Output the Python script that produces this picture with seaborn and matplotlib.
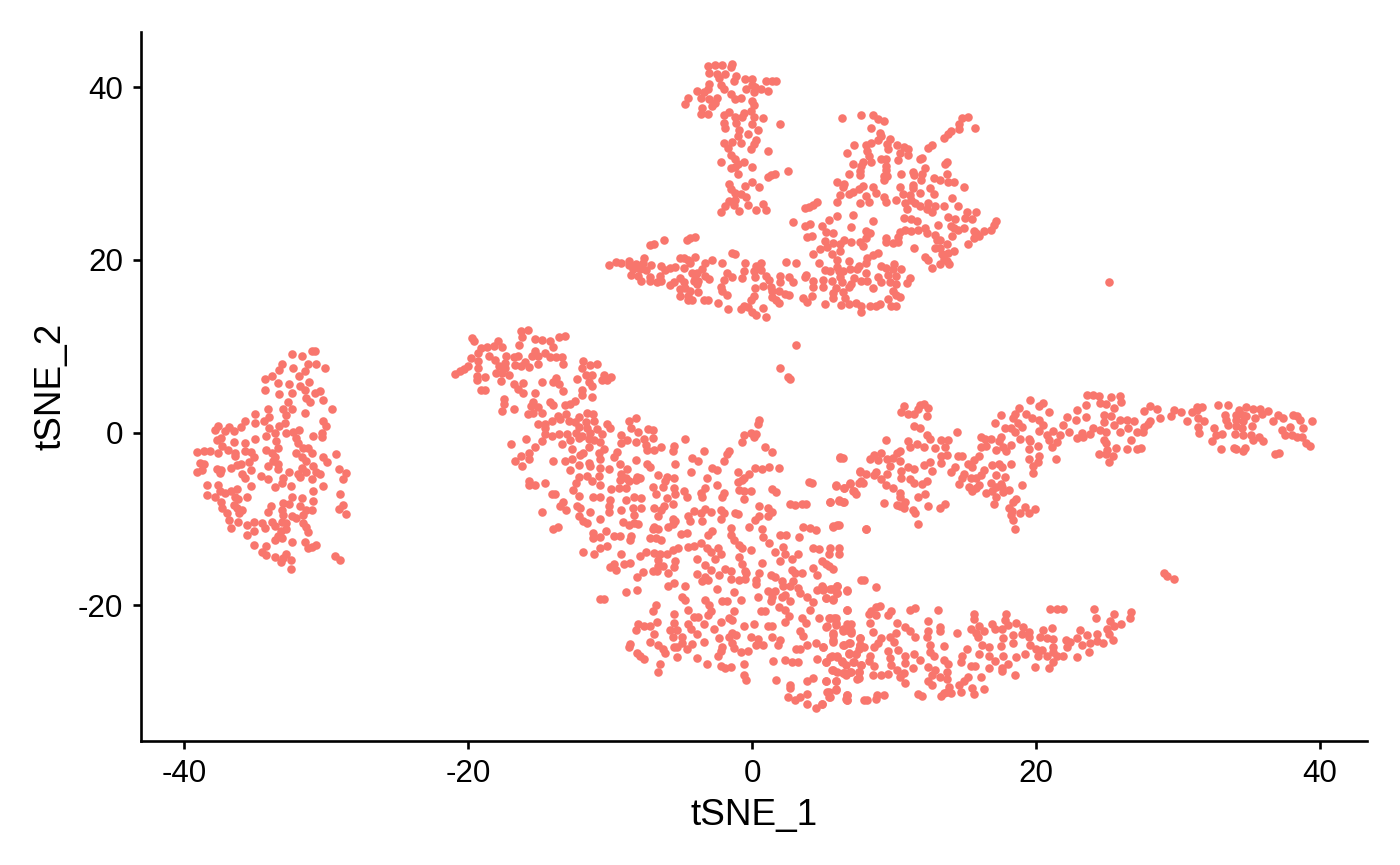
import pandas as pd
import matplotlib
matplotlib.use("Agg")
import matplotlib.pyplot as plt
import seaborn as sns

#Cell coordinates, one list per blob
left_blob = [(-31.0,9.5),(-30.8,9.5),(-32.4,9.1),(-31.7,8.9),(-33.1,7.9),(-33.3,7.3),(-32.3,7.5),(-31.3,8.0),(-30.7,7.9),(-30.1,7.5),(-31.5,7.1),(-31.9,6.6),(-34.3,6.2),(-33.8,6.6),(-33.4,5.8),(-31.2,5.9),(-32.6,5.6),(-31.8,5.4),(-34.3,4.9),(-33.3,4.5),(-32.4,4.6),(-31.5,5.0),(-30.8,4.6),(-30.4,4.8),(-31.4,4.0),(-30.2,3.8),(-31.1,3.5),(-32.7,3.5),(-32.4,2.8),(-29.6,2.7),(-31.5,2.3),(-34.1,2.7),(-33.0,2.8),(-35.0,2.2),(-34.0,1.8),(-32.8,2.1),(-35.7,1.3),(-35.0,1.1),(-34.4,1.3),(-32.9,1.1),(-30.2,1.3),(-30,0.8),(-37.6,0.8),(-36.8,0.7),(-36,0.7),(-37.8,0.3),(-37.1,0.2),(-36.5,0.2),(-34,0.6),(-33.3,0.8),(-33.6,0),(-32.8,0),(-32.3,0.1),(-31.9,0.3),(-30.3,0),(-30.9,-0.4),(-30.3,-0.5),(-37.4,-0.6),(-37.7,-0.9),(-34.2,-0.4),(-35,-0.7),(-32.1,-0.6),(-33.5,-1),(-36.5,-1.1),(-35.7,-1.2),(-37.3,-1.5),(-32,-1.2),(-39.1,-2.2),(-38.6,-2.1),(-38.2,-2.1),(-37.6,-2.3),(-36.9,-2),(-36.4,-2.3),(-35.7,-2.1),(-35.3,-2.2),(-34.2,-2),(-33.4,-1.8),(-33.8,-2.3),(-31.6,-1.8),(-31.3,-1.8),(-32.1,-2.3),(-31,-2.4),(-29.3,-2.5),(-36.4,-2.7),(-35.1,-2.8),(-33.6,-2.8),(-31.7,-2.8),(-30.2,-2.8),(-38.9,-3.5),(-38.6,-3.6),(-35.4,-3.4),(-33.7,-3.3),(-31.4,-3.3),(-29.9,-3.4),(-36.3,-3.7),(-36,-3.6),(-34.1,-3.9),(-33.4,-3.6),(-37.7,-4.2),(-37.4,-4.3),(-36.7,-4.1),(-39.1,-4.5),(-38.7,-4.3),(-33.4,-4.2),(-31.7,-4.1),(-30.9,-3.9),(-29.1,-4.2),(-35.3,-4.3),(-37.5,-4.7),(-35.9,-4.8),(-32.6,-4.6),(-32,-4.8),(-31.4,-4.5),(-30.7,-4.5),(-28.6,-4.7),(-34.6,-5),(-35.7,-5.2),(-34.1,-5.4),(-33,-5.2),(-31.8,-5.1),(-30.4,-4.8),(-31,-5.4),(-28.8,-5.4),(-33.1,-5.8),(-38.4,-6.1),(-37.6,-6.1),(-35.3,-6.2),(-33.6,-6.3),(-32.5,-6.2),(-30.2,-6.2),(-37.5,-6.7),(-37.1,-7),(-36.3,-6.5),(-36.7,-6.8),(-30.9,-6.8),(-38.4,-7.2),(-37.8,-7.4),(-36.4,-7.4),(-36.2,-7.7),(-35.6,-7.5),(-32.4,-7.4),(-31.7,-7.6),(-29,-7.1),(-37.4,-8.0),(-36.5,-8.4),(-30.9,-7.9),(-32.6,-8.3),(-33,-8.1),(-33.9,-8.5),(-31.8,-8.5),(-28.8,-8.4),(-29.1,-8.8),(-37.3,-8.7),(-36.3,-8.7),(-35.9,-9),(-33.1,-8.9),(-31,-8.9),(-31.4,-9),(-28.6,-9.4),(-37,-9.3),(-36.1,-9.3),(-34.1,-9.2),(-33,-9.5),(-31.6,-9.5),(-32.4,-9.6),(-32.1,-9.9),(-36.8,-10.1),(-36.2,-10.3),(-35.1,-10.3),(-34.5,-10.4),(-33.8,-10.3),(-33.1,-10.3),(-32.8,-10.4),(-31.6,-10.4),(-35.6,-10.7),(-34.3,-11),(-33.6,-10.8),(-32.8,-11.1),(-36.7,-11),(-31.4,-10.9),(-35.1,-11.4),(-33.2,-11.4),(-31.3,-11.5),(-35.6,-11.9),(-33.4,-12),(-33.1,-12.2),(-32.4,-12.6),(-33.6,-12.4),(-35.1,-13),(-34.2,-13.1),(-31.5,-12.6),(-30.7,-13),(-31.3,-13.3),(-31,-13.2),(-34.5,-13.8),(-34.2,-14.2),(-33.6,-14.4),(-32.8,-14.1),(-33,-14.5),(-32.5,-14.7),(-33.2,-15),(-32.5,-15.8),(-29.4,-14.3),(-29,-14.7)]

top_column = [(-3.1,42.5),(-2.6,42.6),(-2.1,42.6),(-1.4,42.7),(-1.5,42.3),(-3,41.6),(-2.5,41.5),(-1.9,41.5),(-2.3,41.1),(-1.1,41.3),(-1.3,40.7),(-0.5,41),(0,40.9),(1,40.7),(1.4,40.7),(1.7,40.7),(-3,40.4),(-2.2,40.3),(0,40.3),(0.2,40),(0.6,39.8),(-3.1,39.8),(-2,39.8),(-0.4,39.8),(1.1,39.6),(0.1,39.5),(-3.9,39.6),(-3.4,39.4),(-1.5,39.2),(-4.5,38.8),(-3.6,38.7),(-3,38.6),(-2.5,38.7),(-1.2,38.6),(-0.8,38.8),(0,38.4),(-4.7,38.1),(-2.8,37.8),(-2.6,38.2),(0.1,37.9),(-3.5,37.6),(-0.1,37.3),(-3.6,36.9),(-3.1,36.9),(-2,36.8),(-1.6,37.1),(-0.6,37),(-1.2,36.5),(-0.7,36.5),(0.1,36.5),(0.8,36.4),(2,35.8),(-2,35.9),(-1.1,35.9),(0,35.7),(-1.9,35.3),(0.4,35.1),(-0.9,35),(-0.3,34.6),(-1,34.3),(0.3,33.9),(-2,33.6),(-1.4,33.7),(-0.8,33.5),(0.1,33.4),(-1.7,33),(-0.1,32.9),(1.1,32.6),(-1.5,32.2),(-1.2,31.7),(-0.6,31.3),(-2.2,31.3),(-1,31.1),(0,30.8),(-1.5,30.7),(-1.2,30.8),(2.5,30.3),(-1,29.9),(1.6,29.9),(1.3,29.8),(1.1,29.6),(-1.6,28.8),(-0.5,28.6),(0,29),(0.5,28.5),(-1.5,28.2),(-1.2,27.7),(-0.8,27.6),(-0.4,27.3),(-1.6,26.8),(-1.2,27),(-1.3,26.4),(-1.9,26.2),(-0.3,26.4),(0.8,26.5),(-2.2,25.6),(-0.9,25.7),(0.3,25.8),(1,25.8)]

upper_right = [(6.3,36.4),(7.7,36.8),(8.5,36.8),(8.9,36.3),(9.3,36.1),(8.4,35.3),(9,34.7),(9.1,34.4),(8.9,33.9),(9.7,34),(14.8,36.4),(15.2,36.6),(15.7,35.3),(14.6,35.7),(14.6,35.2),(14,34.9),(13.8,34.6),(13.5,34.1),(7.2,33.3),(8,33.3),(8.4,33.5),(9.5,33.4),(9.6,32.8),(10.2,33.3),(10.7,33.1),(11,32.8),(12.4,33),(12.7,33.3),(6.7,32.4),(8.1,32.6),(8.2,32.0),(10.4,32.4),(11,32.2),(11.8,31.7),(12,31.8),(9.1,31.7),(9.4,31.7),(10.3,31.6),(13.7,31.3),(13.6,31.1),(7.8,31.3),(8.4,31.3),(7.1,31.1),(7.7,30.9),(9.4,30.9),(12.2,30.7),(9.4,30.4),(7.6,30.3),(6.8,30),(7.6,29.8),(10.5,29.9),(11.3,30.2),(12,30),(11.4,29.8),(13.7,29.9),(9.3,29.7),(9.5,29.7),(9.3,29.3),(12.8,29.5),(13.2,29.3),(11.9,29.3),(13.8,29),(14.2,29),(6,29),(6.5,28.8),(6.4,28.4),(7.8,28.6),(7.5,28.2),(8.5,28.5),(10.4,28.4),(11.3,28.7),(11.3,28.3),(12.5,28.3),(14.9,28.5),(7.1,27.9),(6.8,27.6),(8.7,27.7),(11.8,27.8),(12.8,27.6),(6.2,27.5),(8,27.4),(9.3,27.3),(10.6,27.6),(11.1,27.5),(14.1,27.2),(10.1,26.9),(11.2,26.9),(7.6,26.6),(8.2,26.7),(6,26.7),(9.4,26.7),(10.8,26.6),(11.5,26.6),(12.4,26.6),(4.6,26.7),(4.3,26.4),(4,26.1),(3.7,26),(13.5,26.3),(14.5,26.2),(11.8,26.2),(12.9,26.2),(10.9,25.9),(12.3,25.9),(12.7,25.5),(15.1,25.6),(15.8,25.5),(6,25.1),(7.1,25.2),(13.8,25),(15,24.9),(10.7,24.9),(11.2,24.7),(11.6,24.5),(14.3,24.7),(15.5,24.8),(17.2,24.5),(17,24.1),(5.4,24.6),(2.9,24.4),(8.5,24.5),(4.1,24.2),(3.7,23.9),(4.9,23.9),(7,23.8),(13.1,24),(14,23.9),(14.9,23.7),(12.2,23.7),(11.7,23.5),(11.2,23.4),(10.8,23.5),(14.2,23.7),(14.5,23.5),(8,23.4),(16.8,23.5),(16.3,23.4),(15.6,23.4),(5.2,23.2),(5.7,23.1),(8.3,23.1),(10.4,23.2),(12.3,23.1),(15.8,23.1),(3.9,22.7),(4.2,22.8),(12.9,22.9),(14.1,22.8),(10.3,22.7),(16,22.8),(15.6,22.5),(8,22.6),(9.4,22.6),(13,22.3),(13.2,22.3),(5.1,22.2),(6.5,22.3),(6.2,21.9),(7,22.1),(7.6,22.1),(9.4,22.1),(9.9,22),(10.3,22.1),(5.7,22),(15.2,21.9),(13.7,21.8),(5.3,21.5),(4.8,21.3),(7.8,21.6),(11.4,21.4),(12.9,21.4),(13.2,21.4),(6.2,21),(14.2,21),(13.8,20.8),(4.3,20.7),(5.6,20.7),(8.9,20.8),(8.5,20.6),(13.4,20.7),(12.2,20.3),(12.4,20),(13.5,20.1),(6,20),(8.1,20.2),(8,19.7),(13.7,19.9),(6.8,19.9),(4.7,19.6),(7.5,19.3),(7.4,19.0),(13.2,19.5),(13.9,19.5),(9.1,19.3),(9.4,19.1),(10,19.5),(12.7,19.1),(10.5,19),(9.9,18.9),(6,19.2),(5.1,18.8),(5.5,18.7),(6.1,18.7),(6.4,18.7),(6.9,18.9),(8,18.5),(8.9,18),(9.6,18.3),(10.1,18.1),(11.1,17.9),(6.2,18),(7.2,17.9),(7.7,17.6),(8.1,17.6),(4.3,17.6),(5,17.7),(5.6,17.6),(6.3,17.4),(6.95,17.2),(9.1,17.4),(9.7,17.4),(10.1,17.2),(10.9,17.3),(4.3,16.9),(5,16.9),(5.9,16.8),(6.8,16.9),(8.5,16.7),(5.7,16.2),(6.4,16.3),(9.9,16.4),(10.1,15.9),(5.7,15.6),(6.55,15.6),(9.6,15.5),(10.4,15.7),(6.25,14.8),(6.8,14.9),(5.1,14.9),(7.3,15),(7.7,14.7),(7.7,14),(8.3,14.7),(8.7,14.7),(9,14.9),(9.8,14.7),(10.1,14.7),(3.6,15.6),(4.2,15.8),(3.9,15.1)]

upper_wing = [(-10.1,19.4),(-9.6,19.8),(-9.2,19.6),(-8.7,19.9),(-8.7,19.4),(-8.2,19.5),(-7.6,20.2),(-7.7,19.6),(-7.1,19.4),(-8.4,18.9),(-7.9,18.9),(-7.5,18.8),(-8.5,18.3),(-8,18.1),(-7.8,17.6),(-7.2,18),(-7.2,17.6),(-6.7,17.4),(-6.5,18.1),(-6.4,17.6),(-6.4,19.3),(-6.1,18.8),(-5.8,19.1),(-5.4,19.2),(-5.1,20.2),(-4.8,20.2),(-4.5,20),(-4,20.4),(-4.4,19.7),(-4.8,19.1),(-3.3,19.7),(-2.8,20),(-3.5,18.9),(-2.1,19.6),(-4.2,18.5),(-3.9,18.5),(-4,17.8),(-5.1,17.9),(-5.5,17.4),(-5.8,17.1),(-4.8,17.4),(-4.1,17.6),(-3.8,17.6),(-3.3,18.1),(-3,17.8),(-3.9,17.2),(-5.1,16.6),(-4.7,16.7),(-4.4,16.4),(-3.8,16.3),(-5.1,15.8),(-4.5,15.8),(-4.2,15.4),(-4.5,15.4),(-3.4,15.4),(-3.1,15.4),(-7.2,21.7),(-6.9,21.9),(-6.2,22.3),(-4.6,22.3),(-4.4,22.6),(-4,22.7),(-1.4,20.8),(-1.2,20.7),(-0.5,19.7),(0.6,19.7),(0.3,19.3),(2.4,19.8),(3.1,19.7),(-1.8,18.5),(-1.4,18),(-0.6,18.7),(-0.7,17.9),(0.1,18.7),(0.6,18.8),(0.2,18),(1,18.1),(1.2,17.7),(-2,17.7),(-2.2,16.9),(0.8,17),(1.3,16.9),(2,18.2),(2,17.4),(2.6,18),(2.9,17.4),(3.8,18.3),(3.7,18),(0.2,16.7),(-2.1,16.4),(-1.8,15.9),(1.4,16.4),(1.9,16.4),(2.3,16.1),(2.6,16),(1.4,15.7),(0.1,15.8),(-0.1,15.4),(1.7,15.4),(-2.4,15),(1.9,15),(-1.7,14.3),(-0.6,14.7),(-0.8,14.3),(-0.3,14.5),(0.8,14.4),(0,14),(0.3,13.6),(1,13.4)]

strays = [(25.1,17.4),(3.1,10.2),(2,7.5),(2.5,6.5),(2.7,6.2),(29,-16.3),(29.2,-16.6),(29.7,-16.9)]

main_body = [(-19.7,11),(-19.6,10.6),(-19.1,9.8),(-18.7,9.9),(-18.2,10),(-17.9,10.6),(-17.6,9.9),(-16.3,11.8),(-15.8,11.9),(-16.2,11.1),(-16.4,10.2),(-15.3,10.8),(-14.8,10.7),(-14.2,10.6),(-14,9.9),(-13.6,11.1),(-13.2,11.2),(-19.3,9.2),(-18.5,8.9),(-18.1,8.4),(-19.8,8.6),(-17.3,8.9),(-16.8,8.8),(-16.5,8.9),(-15.3,9.5),(-15.5,8.9),(-15.1,8.9),(-14.6,9.2),(-14.2,8.8),(-13.8,8.8),(-13.4,8.8),(-19.3,8.3),(-19.3,7.5),(-20,7.7),(-20.3,7.4),(-20.6,7.1),(-20.9,6.8),(-17.8,7.7),(-17.4,8.1),(-17.4,7.5),(-16.7,7.8),(-16.3,7.7),(-16,8.2),(-15.7,7.6),(-15.1,7.9),(-13.3,7.9),(-11.9,8.3),(-11.4,7.8),(-10.9,7.9),(-12,7.5),(-18,6.9),(-17.6,6.9),(-17.1,6.7),(-17.7,6),(-19.4,6.6),(-19.4,6.1),(-18.8,6.5),(-14.8,5.9),(-16.1,5.7),(-16.8,5.6),(-13.8,6.3),(-14,5.9),(-13.6,5.6),(-12.3,6.2),(-11.7,6.7),(-11.3,6.7),(-11.5,5.9),(-10.4,6.7),(-9.9,6.4),(-10.6,6.1),(-10.2,6.1),(-11.3,5.4),(-19.1,4.9),(-18.8,4.9),(-16.5,5.1),(-16.1,4.6),(-13.3,4.8),(-12,5),(-15.3,4.6),(-12,4.4),(-11.3,4.1),(-17.5,3.9),(-17.5,3.3),(-17.6,2.5),(-16.8,2.8),(-15.4,3.6),(-15.6,3.1),(-15.1,3),(-14.2,3.6),(-14,3.2),(-13.2,3.2),(-12.5,3.7),(-12.8,3.3),(-15.8,2.2),(-15.4,2.3),(-14.8,2.3),(-13.1,2.2),(-11.6,2.3),(-11.2,2.2),(-13.7,1.9),(-12.2,1.8),(-13.5,1.6),(-14.1,1.3),(-12.9,1.4),(-12.5,1.2),(-11.7,1.2),(-11.1,1.3),(-15.1,1),(-14.6,1),(-10.2,1),(-8.7,1.4),(-8.2,1.7),(-14.6,0.5),(-12.2,0.7),(-11.6,0.5),(-10,0.6),(-8.5,0.5),(-7.3,0.4),(-7,0.3),(-10.9,0.4),(-8,0.1),(-14.6,-0.2),(-13.6,-0.2),(-13,-0.1),(-12.4,0),(-12,-0.4),(-11.4,0),(-10.6,-0.2),(-9.2,-0.3),(-14.1,-0.4),(-15.9,-0.7),(-14.8,-1),(-12.8,-0.9),(-12.2,-0.6),(-11.5,-0.7),(-11.1,-0.8),(-10.7,-1.1),(-13.4,-1.3),(-17,-1.3),(-9.2,-1.2),(-8.8,-0.9),(-8.2,-1.1),(-7.6,-0.7),(-7,-0.6),(-4.7,-0.7),(-5.5,-1.5),(-5.6,-2.1),(-7.5,-1.4),(-7.4,-2),(-6.9,-2),(-6.4,-1.7),(-11.5,-1.6),(-15.3,-1.7),(-12.7,-1.9),(-10.4,-1.9),(-3.4,-2.1),(-1.6,-2.1),(-1.8,-2.5),(0.9,-1.7),(1.4,-2.2),(0.5,1.5),(0.4,1),(-0.1,0),(0.3,-0.1),(-0.6,-0.3),(0.1,-0.5),(-0.7,-1.1),(-15.7,-2.4),(-16.3,-2.7),(-12.1,-2.6),(-11.9,-2.4),(-10.8,-2.4),(-9.5,-2.2),(-9.7,-2.8),(-10.7,-3),(-4.2,-2.9),(-3.8,-3.3),(-2,-3.3),(6.2,-2.8),(-16.7,-3.3),(-15.7,-3.1),(-16.2,-3.8),(-14,-3.3),(-13.2,-3.3),(-12.7,-3.1),(-12.2,-3.7),(-11.5,-3.5),(-8.2,-3.2),(-7.4,-3.6),(-5.4,-3.6),(-9.3,-3.6),(-12.8,-4.3),(-11.4,-3.9),(-10.7,-4.1),(-10.1,-4.2),(-7.2,-4),(-2.8,-4.1),(-2.5,-4.3),(0.2,-4.1),(0.7,-4.2),(1.2,-4),(1.9,-4.1),(-1,-4.6),(-8.8,-4.2),(-9.2,-4.8),(-4.3,-4.5),(-0.2,-4.8),(-12.2,-5.1),(-6.6,-4.9),(-11.6,-5),(-10.8,-5),(-8.9,-5.3),(-8.1,-5.1),(-6,-5.1),(-15.7,-5.6),(-3.2,-5.2),(-0.6,-5.3),(4,-5.7),(4.2,-5.8),(7.6,-4.5),(-5.5,-5.3),(-14.6,-5.8),(-15.7,-6),(-15.3,-6.1),(-12.4,-5.8),(-11.3,-5.6),(-10.7,-6.1),(-9.3,-5.5),(-8.7,-5.6),(-8.2,-5.5),(-7.9,-5.3),(-6.1,-5.6),(-2.5,-6),(-1,-5.7),(-0.7,-5.5),(5.9,-6.1),(6.9,-5.8),(7.7,-5.6),(6.5,-6.4),(-12.6,-6.6),(-9.9,-6.5),(-9.4,-6.4),(-8.9,-6.4),(-7,-6.3),(-6.3,-6.3),(-5.5,-6.4),(-3.3,-6.4),(-0.9,-6.6),(-0.1,-6.8),(-0.6,-6.7),(1.4,-6.5),(1.7,-6.9),(7.2,-6.8),(-12.2,-7.3),(-6.8,-7.1),(-5.4,-7.1),(-4.8,-6.8),(-3.6,-7),(-2,-7),(-14.1,-7.1),(-13.9,-7.1),(-11.2,-7.5),(-10.7,-7.4),(-4.6,-7.5),(-3.5,-7.5),(-2.1,-7.5),(-6,-7.6),(-8.3,-7.4),(-7.8,-7.6),(-0.6,-7.7),(-10,-7.8),(-8.9,-7.8),(5.5,-8),(6.1,-7.8),(6.5,-8),(-13.3,-8),(-5.6,-8.3),(-13.5,-8.5),(2.7,-8.3),(3,-8.4),(3.5,-8.3),(3.8,-8.2),(0.5,-8.5),(-12.3,-8.5),(-10.1,-8.5),(-6.9,-8.7),(-6.2,-8.5),(-13.1,-9),(-12.1,-8.7),(-9.2,-8.9),(-8.4,-8.7),(-7.8,-8.7),(-3.3,-8.8),(-6.4,-9),(-2.2,-8.9),(1.1,-8.7),(-14.8,-9.2),(-11.4,-9.2),(-10.1,-9.2),(-4.1,-9.1),(-2.9,-9.2),(-2,-9.3),(-1.2,-9.3),(-1,-9.4),(1.4,-9.2),(-4.5,-9.6),(-3.6,-9.3),(-6.6,-9.6),(-8.3,-9.5),(0.5,-9.7),(1.1,-9.6),(-12.2,-9.7),(-10.7,-10),(-4.4,-10.2),(-3.5,-10.2),(-2.2,-10),(0.2,-10.1),(-5.6,-10),(-5.4,-10.2),(-11.9,-10.2),(-11.6,-10.4),(-9.1,-10.3),(-8.3,-10.5),(-8,-10.6),(-8.7,-10.7),(-5.6,-10.6),(6,-10.7),(5.7,-10.9),(-0.2,-10.9),(3.6,-10.9),(4.1,-11),(4.5,-11.3),(8,-11.1),(-13.7,-10.9),(-14,-11.2),(-5.9,-10.9),(-6.9,-10.9),(0.7,-11.1),(-1.5,-11),(-7,-11.2),(-6.6,-11.1),(-10.3,-11.4),(-11.2,-11.6),(-2.8,-11.4),(-1.5,-11.8),(-5,-11.7),(-4.6,-11.6),(-3.1,-11.8),(-10.7,-12.1),(-11.2,-12.2),(-9.7,-12),(-9.3,-12),(-8.5,-12),(2,-11.9),(2.4,-11.9),(0.8,-12.1),(-7.2,-12.2),(-6.8,-12.2),(-6.4,-12.4),(-8.6,-12.4),(3.3,-12.1),(-1.3,-12.4),(-10.2,-13.1),(-10.7,-13.4),(-0.9,-13),(1.2,-12.8),(2.2,-13.2),(4.3,-13.3),(4.7,-13.5),(5.5,-13.3),(6.1,-13.3),(-3.6,-12.8),(-4.5,-13.2),(-4.1,-13.1),(-3.2,-13.3),(-5.2,-13.4),(-5.6,-13.6),(-6,-14),(-2.4,-13.4),(-0.7,-13.4),(-11.9,-13.8),(-11.1,-14.1),(-9.2,-14),(-7.5,-13.8),(-6.9,-13.9),(-6.5,-14),(-2.9,-13.8),(-2.2,-14.1),(-0.1,-13.6),(1.6,-13.8),(2.3,-14),(3.2,-14.1),(5.4,-14),(6.1,-14.1),(-7.9,-14.3),(-0.9,-14.4),(2.8,-14.6),(2,-14.8),(-3.9,-14.6),(-2.6,-14.6),(4.9,-14.8),(-6.6,-14.7),(-5.4,-14.9),(-0.7,-15.2),(0.7,-15.1),(5.2,-15.2),(5.4,-15.4),(-9,-15.2),(-8.6,-15.1),(-10,-15.5),(-9.7,-15.2),(-9.6,-15.9),(-6.6,-15.4),(-6.3,-15.4),(-5.5,-15.6),(-3.3,-15.3),(5.7,-15.8),(2.8,-15.9),(-1.9,-15.8),(4.3,-15.7),(-2.9,-15.9),(-0.5,-16),(-1.5,-16),(-7.7,-16.1),(-7,-16),(-6.7,-16),(-5.9,-16.3),(3.05,-16.3),(3.5,-16.3),(0.5,-16.2),(-3.9,-16.4),(-0.4,-16.3),(-2.3,-16.5),(-8.1,-16.7),(-3.3,-16.7),(1.3,-16.5),(1.6,-16.7),(4.6,-16.5),(-1.5,-16.9),(-0.9,-17),(-0.5,-16.9),(0.3,-17),(2.1,-17.2),(7.7,-17),(-3.5,-17.2),(-3.1,-17),(2.9,-17.2),(2.7,-17.7),(-5.5,-17.4),(-5.9,-17.8),(-4.7,-17.7),(0.3,-17.5),(2.2,-17.7),(3.2,-18),(4.9,-17.7),(6,-17.7),(-8.9,-18.4),(-8.1,-18.2),(-2.5,-18.1),(-1.3,-18.5),(1.1,-18.3),(1.6,-18.3),(4.6,-18.2),(5,-18.2),(5.6,-18.1),(6.7,-18.3),(3.4,-18.6),(2.3,-18.8),(2.1,-19),(6,-18.6),(-10.7,-19.2),(-10.4,-19.2),(-4.9,-19),(-4.7,-19.4),(0.4,-19),(1.4,-19),(1.3,-19.5),(3.9,-19),(5.2,-19.1),(5.7,-19.4),(2.7,-19.5),(-3.3,-19.4),(-3,-19.9),(-0.8,-19.4),(-2.1,-19.5),(-1.8,-19.5),(4.3,-19.6),(-6.8,-19.9),(1.9,-20.2),(4.1,-20.5),(-7,-20.6),(-4.5,-20.5),(-2.9,-20.6),(-1.3,-20.6),(0.6,-20.6),(0.9,-20.6),(2.3,-20.5),(6.7,-20.5),(-5.5,-21),(-4.1,-21.3),(-3.8,-21.3),(-3.1,-21.1),(2.6,-21.2),(-1.6,-21.4),(4.7,-21.5),(5.4,-21.5),(5.8,-21.5),(3.5,-21.5),(-2.2,-21.9),(-1.4,-21.7),(-6.7,-21.9),(-8,-22.1),(-5.5,-22),(-3.4,-22.1),(2.3,-21.9),(3.8,-22),(5.9,-22),(-7.6,-22.4),(-7.2,-22.4),(-4.5,-22.2),(-0.6,-22.4),(0.1,-22.2),(1.1,-22.4),(1.4,-22.4),(5.3,-22.4),(6.7,-22.2),(7,-22.2),(-8.2,-22.8),(-5.8,-22.8),(-5.3,-22.9),(-4.3,-22.7),(-2.7,-22.7),(6.8,-22.8),(6.4,-22.7),(-6.9,-23.3),(3.4,-23),(-5.6,-23.6),(-3.9,-23.3),(-1.4,-23.2),(-1.1,-23.4),(3.6,-23.5),(5.7,-23.2),(7,-23.2),(-4.9,-23.7),(-1.6,-23.7),(-0.1,-23.6),(1.4,-23.7),(2,-24),(-2.3,-23.8),(0.4,-23.9),(-7.2,-24.2),(-3.4,-24.2),(5.7,-24),(7.6,-23.8),(-8.6,-24.5),(-8.7,-24.8),(-6.6,-24.6),(-4.9,-24.3),(-4.2,-24.5),(-1.4,-24.4),(0.3,-24.6),(0.8,-24.6),(1.8,-24.6),(3.9,-24.6),(4.5,-24.3),(6.5,-24.6),(6.9,-24.4),(7.6,-24.6),(-5.5,-24.8),(-5.3,-24.8),(-4.6,-25),(-6.3,-25),(-2.1,-24.8),(-1.3,-24.9),(5,-24.8),(3.1,-25),(3.4,-25.1),(7.5,-25),(-6.1,-25.5),(-2.2,-25.3),(-0.8,-25.4),(-0.3,-25.3),(-8.1,-25.5),(6.8,-25.5),(7.3,-25.6),(-7.9,-25.8),(-5.3,-26),(-3.9,-26.1),(-2.4,-25.9),(5.6,-25.9),(6,-25.9),(4.6,-26.2),(-7.6,-26.2),(2.3,-26.3),(1.5,-26.4),(6.3,-26.4),(5.2,-26.5),(7.2,-26.5),(2.8,-26.6),(3.2,-26.5),(-6.5,-26.8),(-3.2,-26.8),(-0.6,-26.8),(-2.2,-27),(-1.9,-27.3),(-1.5,-27.1),(6.6,-26.9),(7.7,-26.9),(5.6,-27.5),(6,-27.7),(7.5,-27.7),(6.9,-27.7),(6.5,-27.8),(-6.6,-27.7),(-0.6,-28),(7.5,-28.4),(6.6,-28),(-0.4,-28.6),(1.7,-28.6),(4.3,-28.4),(3.9,-28.7),(5.2,-28.7),(5.9,-28.7),(2.7,-29.2),(2.7,-29.6),(5.9,-29.8),(5.4,-30),(3.9,-30.2),(5.4,-30.6),(6.7,-30.4),(2.5,-30.6),(3,-30.9),(3.4,-30.6),(6.7,-30.9),(3.9,-31.4),(4.9,-31.4),(4.5,-31.9),(7.9,-30.9)]

right_band = [(10.7,3.1),(11.8,3.2),(12.1,3.3),(12.4,2.9),(10.5,2.4),(11,2.2),(11.4,2.2),(11.7,2.7),(12.3,1.9),(11.4,0.8),(11.8,0.5),(12.3,-0.3),(12.5,-0.7),(14.4,0.1),(9.4,-0.9),(11,-1),(11.6,-1.3),(11.1,-1.6),(12.1,-1.7),(13.3,-0.9),(13.8,-0.9),(12.9,-1.8),(13.6,-1.6),(10.4,-2.1),(10.2,-2.4),(9.1,-2.3),(8.6,-2.6),(8.3,-3),(8.9,-3.2),(9.9,-2.9),(9.5,-3.1),(10.4,-3.3),(13.3,-2.7),(13.7,-2.6),(6.2,-2.9),(6.4,-2.9),(12.5,-3.4),(12.1,-3.7),(13.3,-3.5),(9.7,-3.9),(11,-4),(10.5,-4.4),(11.4,-4.2),(12.7,-4.4),(7.6,-4.4),(8,-4.8),(8.7,-4.6),(8.6,-4.9),(9.5,-4.8),(10.5,-5.3),(9.1,-5.4),(11.1,-5.4),(11.4,-5.8),(12.3,-5.6),(12,-5.9),(6.9,-5.9),(7.5,-5.8),(7.8,-5.8),(5.9,-6.2),(6.5,-6.4),(9.4,-6.1),(9.9,-6.4),(7.1,-6.7),(7.3,-7.1),(10.4,-7),(12.2,-7.1),(11.7,-7.5),(10.4,-7.5),(10.8,-8),(5.5,-8),(6.1,-7.9),(6.4,-8),(9.3,-8.1),(13.6,-8.2),(10.2,-8.4),(10.4,-8.5),(12.4,-8.5),(13.2,-8.7),(10.7,-8.7),(11.3,-9),(11.5,-9.3),(5.7,-10.8),(6.1,-10.7),(8,-11.2),(11.7,-10.6),
(19.6,3.8),(20.5,3.4),(20.2,3.1),(18.8,2.9),(20.9,2.4),(17.5,2),(18.5,2.2),(19.3,2.2),(19.7,1.7),(20.2,1.5),(18.4,1.7),(17.1,1.1),(18.7,1.1),(19,0.7),(20.5,0.9),(17.8,0.6),(18.2,0.6),(18.5,0.1),(20.2,0.2),(21.2,0.2),(20.8,-0.3),(21.7,-0.3),(16.1,-0.5),(16.4,-0.7),(16.8,-0.7),(17.5,-0.5),(18.9,-0.7),(19.5,-0.7),(20.9,-0.8),(17.4,-1),(18.2,-1.4),(19.6,-1),(21.5,-1.1),(16.1,-1.6),(16.5,-1.5),(17.7,-1.6),(20.1,-1.5),(21.1,-1.6),(17.2,-2),(17.9,-2.1),(19.5,-1.9),(14.5,-2.7),(14.8,-2.7),(16,-2.7),(20.2,-2.7),(19.5,-3),(21.4,-3.1),(15.6,-3.2),(15.2,-3.6),(20.1,-3.4),(16.9,-3.7),(17.4,-3.6),(18.2,-3.6),(19.8,-3.8),(14.3,-4),(15.5,-4),(17.6,-4),(14,-4.5),(16.3,-4.3),(14.9,-4.8),(17.2,-4.9),(19.8,-4.7),(16.1,-4.9),(17.8,-5.1),(14.8,-5.3),(15.4,-5.3),(15.8,-5.3),(14.6,-5.9),(16.8,-5.8),(16,-6.1),(17.5,-5.9),(19,-6),(15.3,-6.3),(17.2,-6.3),(17.6,-6.3),(18.1,-6.6),(15.8,-6.4),(15.5,-6.8),(16.5,-7),(16.9,-6.8),(17.7,-6.9),(17.2,-7.4),(18.6,-7.7),(18.4,-8),(17,-8.3),(18.1,-8.7),(19.2,-8.6),(19.9,-8.8),(18.3,-9.1),(18.2,-9.5),(18.9,-9.3),(19.5,-9.3),(18.4,-10.1),(18.5,-11.1),
(23.6,4.4),(24,4.4),(24.4,4.2),(25.3,4.1),(25.9,4.3),(26,3.6),(24.5,3.4),(24.9,3.3),(23.5,3.2),(25.5,2.9),(22.9,2.6),(28,3.1),(28.5,2.7),(27.6,2.5),(29.7,2.6),(30.2,2.4),(31.3,3),(31.7,3),(32.8,3.2),(33.5,3.2),(31,2.4),(31.3,2.6),(24.8,2),(25.3,1.97),(23.5,1.8),(22.2,1.8),(22.8,1.5),(28.7,1.7),(29.5,1.9),(31.4,1.7),(30.6,1.4),(25.9,1.5),(26.4,1.5),(26.9,1.3),(28,1.4),(31.8,1.3),(24.8,1.2),(21.9,0.9),(24,0.6),(25.5,0.9),(31.4,0.7),(32.5,0.6),(27.6,0.7),(27.9,1),(24.5,0.3),(22.3,0.1),(23.2,0),(23.8,-0.2),(24.9,0.1),(25.9,0.1),(26.5,0.5),(27.1,0.1),(27.5,0.1),(31.5,0),(22.9,-0.6),(23.3,-0.5),(24.8,-0.9),(26.7,-0.9),(24.9,-1.2),(25.6,-1.8),(26.4,-1.9),(27.1,-1.9),(27.4,-1.8),(25,-2),(24.4,-2.5),(24.9,-2.5),(25.4,-2.7),(25.1,-3.4),
(33.3,2),(34.3,2.6),(34.8,3),(35.3,2.8),(35.8,2.7),(36.3,2.5),(35.9,2.2),(37,2.1),(37.4,1.7),(38.1,2.1),(38.4,1.9),(38.6,1.5),(39.4,1.4),(36.7,1.4),(34.1,2),(34.6,2),(34.8,1.9),(35.4,1.7),(33.4,1.5),(34.1,1.5),(34.6,1.3),(35.2,0.8),(33.5,0.9),(34.1,0.8),(34.5,0.5),(37.9,0.7),(38.8,0.5),(37.3,0.3),(34,-0.1),(33.1,-0.1),(32.7,-0.3),(34.6,-0.3),(35.1,-0.3),(37.5,-0.3),(38,-0.3),(38.4,-0.5),(38.7,-0.5),(35.7,-0.5),(35.3,-0.9),(36,-1),(32.4,-1),(39,-1.2),(39.3,-1.5),(33,-1.9),(33.9,-1.8),(34.1,-1.9),(34.7,-1.8),(34.6,-2.1),(36.8,-2.5),(37.1,-2.4)]

lower_tail = [(7.9,-17.1),(8.7,-17.9),(6,-17.7),(6.7,-18.2),(5.5,-18.1),(5,-18),(6,-18.6),(5.2,-19.1),(5.7,-19.3),(8.7,-20.2),(9,-20.1),(8.4,-20.6),(9.8,-20.6),(11.1,-20.5),(11.5,-20.3),(13.1,-20.5),(21,-20.4),(21.5,-20.4),(21.9,-20.4),(24.1,-20.4),(26.7,-20.8),(6.7,-20.5),(8.2,-21),(8.7,-21.1),(9.6,-21.1),(15.6,-21),(17.9,-21),(25.5,-21),(5.5,-21.4),(5.9,-21.5),(8.3,-22),(10.2,-22),(12.4,-21.8),(15.6,-21.6),(17.8,-21.7),(24.2,-21.4),(25.2,-21.8),(26.6,-21.5),(18.6,-22),(16.9,-22.1),(16,-22.4),(5.9,-22.3),(5.2,-22.5),(6.8,-22.3),(6.7,-22.8),(10.8,-22.5),(12.4,-23),(13.2,-22.5),(15.4,-22.7),(17.1,-22.7),(17.6,-22.7),(18,-22.3),(19.1,-22.5),(21.1,-22.6),(20.5,-22.9),(25.5,-22.4),(26,-22.1),(25,-22.7),(23.1,-22.9),(19.5,-23.1),(16.3,-23),(6.4,-23),(7,-23),(8.5,-23.1),(11.1,-23),(13.2,-23),(14.4,-23.2),(15.8,-23.2),(5.7,-23.4),(10.1,-23.2),(9.7,-23.6),(18.4,-23.4),(19,-23.3),(23.6,-23.4),(24.3,-23.3),(25.1,-23.3),(9.1,-23.8),(11.5,-23.7),(12.3,-23.7),(15.9,-23.6),(17.7,-23.8),(19.5,-23.7),(20.3,-23.7),(20.8,-23.8),(21.2,-23.9),(22.1,-24),(22.9,-23.8),(7.6,-23.8),(5.7,-24.2),(10,-24.2),(8.9,-24.3),(6.8,-24.3),(18.4,-24.3),(22.4,-24.2),(24.3,-24.1),(25.4,-24),(7.6,-24.6),(6.4,-24.6),(8.6,-24.8),(7.9,-24.8),(13.5,-24.7),(12.5,-24.6),(16.2,-24.6),(16.7,-24.8),(17.5,-24.7),(19.6,-24.6),(21.2,-24.8),(22.2,-24.8),(23.2,-24.6),(23.8,-24.4),(24.7,-24.3),(5,-24.8),(15.1,-25),(20,-25),(20.4,-25.2),(10.3,-25.2),(9.6,-25.3),(12.5,-25.4),(12.8,-25.8),(16,-25.6),(16.7,-25.8),(21.2,-25.4),(23.7,-25.4),(6.8,-25.6),(7.3,-25.6),(8.3,-25.8),(11.4,-25.6),(10.8,-25.8),(14.8,-25.8),(19.2,-25.6),(18.6,-26),(17.7,-25.9),(20.1,-25.8),(20.8,-25.8),(21.5,-25.8),(21.9,-25.8),(22.9,-26),(5.5,-26),(6,-26),(9.7,-26.1),(8.2,-26.4),(5.2,-26.6),(6.3,-26.5),(7.1,-26.6),(11.8,-26.3),(13.5,-26.3),(13.8,-26.8),(14.7,-26.5),(17.1,-26.4),(21.2,-26.6),(10.8,-26.7),(7.7,-26.9),(8.6,-27),(9.8,-26.9),(11.3,-27.2),(12.4,-27.1),(15.4,-27),(15.7,-27),(18,-26.8),(17.6,-27.2),(16.7,-27.3),(19.9,-27.1),(20.9,-27.2),(5.7,-27.5),(6.4,-27.8),(7,-27.7),(7.5,-27.7),(10.2,-27.5),(10.7,-27.8),(12.9,-27.5),(13.7,-27.7),(17.6,-27.6),(8.5,-28),(9.1,-28),(9.6,-27.9),(18.5,-28),(16.1,-28.3),(12.7,-28.1),(10.4,-28.3),(13.2,-28.3),(13.7,-28.5),(7.4,-28.5),(15.2,-28.3),(14.9,-28.7),(5.2,-28.7),(5.9,-28.7),(10.8,-29),(12.4,-28.8),(12.7,-29.2),(14.6,-29.2),(16.3,-29.7),(13.9,-29.5),(15.5,-29.6),(5.9,-29.7),(5.3,-30),(13.7,-30),(14,-30.1),(14.7,-30),(13.5,-30.1),(15.6,-30.3),(11.7,-30.3),(12,-30.5),(13.3,-30.5),(6.7,-30.4),(9.3,-30.4),(8.8,-30.4),(5.5,-30.6),(6.6,-30.8),(8.7,-30.8),(8.1,-31),(6.7,-31),(4.9,-31.4)]

x_ticks = [-40, -20, 0, 20, 40]
y_ticks = [-20, 0, 20, 40]

cells = left_blob + top_column + upper_right + upper_wing + strays + main_body + right_band + lower_tail
df = pd.DataFrame(cells, columns=["tSNE_1", "tSNE_2"])
print(len(df))

sns.set_style("ticks")
plt.rcParams["font.family"] = ["Liberation Sans", "DejaVu Sans"]
plt.rcParams["axes.unicode_minus"] = False

fig = plt.figure(figsize=(7, 4.325), dpi=200)
ax = fig.add_axes([141/1400, 1-741/865, (1367-141)/1400, (741-32)/865])
sns.scatterplot(data=df, x="tSNE_1", y="tSNE_2", color="#F8766D", s=9.5, linewidth=0, ax=ax)

ax.set_xlim(-43.03, 43.3)
ax.set_ylim(-35.7, 46.4)
ax.set_xticks(x_ticks)
ax.set_yticks(y_ticks)
ax.tick_params(labelsize=11.3, width=0.95, length=2.9, color="black", labelcolor="black", pad=3.6)
ax.set_xlabel("tSNE_1", fontsize=13.3, color="black", labelpad=3.2)
ax.set_ylabel("tSNE_2", fontsize=13.3, color="black", labelpad=3.2)
sns.despine(ax=ax)
for side in ["left", "bottom"]:
    ax.spines[side].set_linewidth(0.95)
    ax.spines[side].set_color("black")

fig.savefig("out.png", dpi=200)
